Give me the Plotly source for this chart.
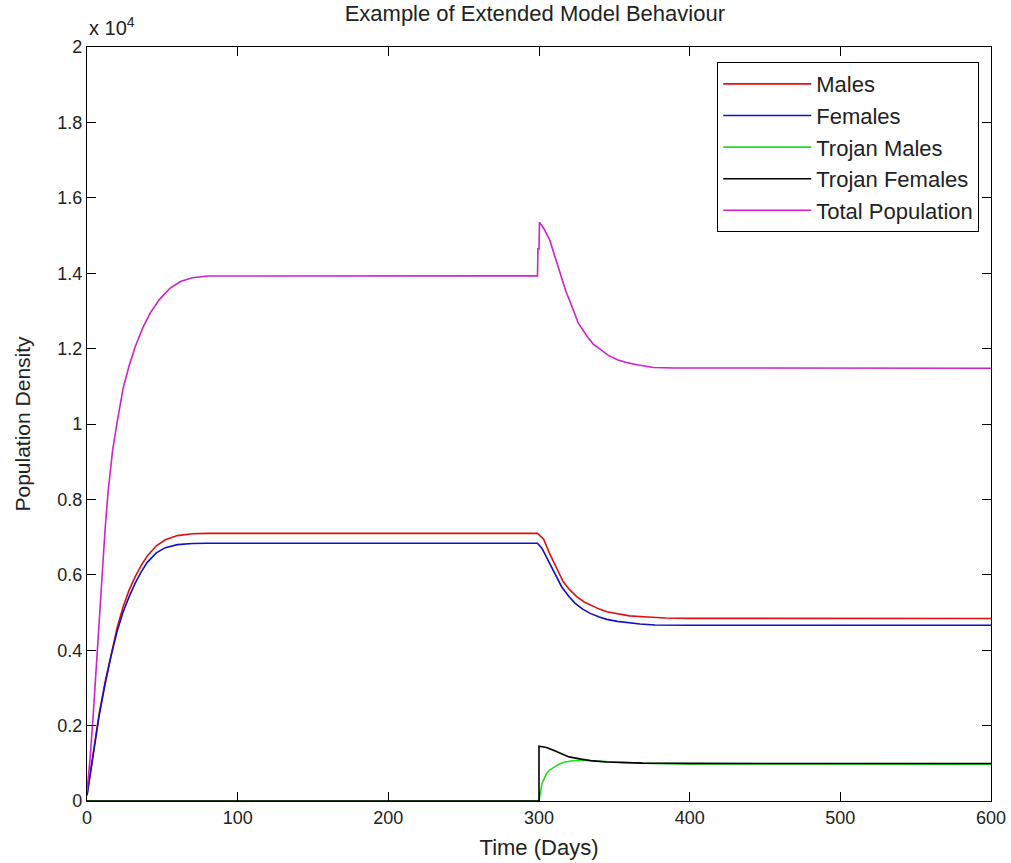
import plotly.graph_objects as go

# ---------------- data ----------------
male_days = [0, 4, 8, 12, 16, 20, 24, 28, 32, 36, 40, 46, 52, 60, 70, 80, 299, 303, 307, 312, 316, 320, 325, 330, 334, 340, 345, 352, 360, 372, 384, 400, 600]
male_vals = [150, 1200, 2300, 3150, 3900, 4600, 5150, 5600, 5950, 6250, 6500, 6770, 6930, 7040, 7090, 7100, 7100, 6950, 6570, 6150, 5820, 5620, 5420, 5280, 5200, 5090, 5020, 4960, 4910, 4880, 4855, 4845, 4840]

female_days = [0, 4, 8, 12, 16, 20, 24, 28, 32, 36, 40, 46, 52, 60, 70, 80, 299, 302, 307, 311, 315, 320, 324, 329, 334, 340, 345, 352, 358, 367, 377, 400, 600]
female_vals = [150, 1180, 2250, 3100, 3850, 4500, 5020, 5420, 5780, 6080, 6330, 6580, 6720, 6800, 6830, 6837, 6837, 6700, 6305, 5970, 5684, 5420, 5243, 5090, 4977, 4880, 4818, 4765, 4730, 4695, 4670, 4662, 4660]

tmale_days = [0, 300, 301, 302, 303.5, 305, 307, 310, 313, 316, 321, 327, 333, 338, 350, 369, 400, 600]
tmale_vals = [0, 0, 250, 460, 600, 728, 820, 905, 970, 1020, 1060, 1080, 1075, 1062, 1030, 1000, 985, 975]

tfemale_days = [0, 300, 300, 305, 310, 315, 320, 328, 336, 345, 355, 369, 400, 600]
tfemale_vals = [0, 0, 1453, 1420, 1340, 1250, 1170, 1110, 1063, 1035, 1020, 1005, 997, 995]

total_days = [0, 2, 4, 6, 8, 10, 12, 14, 17, 20, 24, 28, 32, 37, 42, 48, 55, 62, 70, 80, 299, 299.3, 300, 300.3, 303, 307, 311, 315, 318, 321, 326, 332, 336, 341, 346, 352, 358, 365, 376, 390, 600]
total_vals = [250, 1100, 2200, 3500, 4700, 6100, 7200, 8200, 9300, 10050, 10950, 11550, 12050, 12550, 12950, 13300, 13600, 13780, 13880, 13925, 13930, 14645, 14645, 15350, 15200, 14890, 14360, 13830, 13500, 13210, 12680, 12320, 12120, 11970, 11820, 11705, 11630, 11570, 11500, 11485, 11480]

x_ticks = [0, 100, 200, 300, 400, 500, 600]
y_ticks = [0, 2000, 4000, 6000, 8000, 10000, 12000, 14000, 16000, 18000, 20000]
y_tick_labels = ["0", "0.2", "0.4", "0.6", "0.8", "1", "1.2", "1.4", "1.6", "1.8", "2"]

series = [
    ("Males", male_days, male_vals, "#e01010"),
    ("Females", female_days, female_vals, "#1010c8"),
    ("Trojan Males", tmale_days, tmale_vals, "#20dd20"),
    ("Trojan Females", tfemale_days, tfemale_vals, "#000000"),
    ("Total Population", total_days, total_vals, "#d020d0"),
]

FONT = "Liberation Sans, Arial, sans-serif"
TXT = "#222222"

fig = go.Figure()
for name, xs, ys, col in series:
    fig.add_trace(go.Scatter(x=xs, y=ys, mode="lines", name=name, legendgroup=name,
                             line=dict(color=col, width=1.6)))

axis_common = dict(showgrid=False, zeroline=False, showline=True, linecolor="black",
                   linewidth=1.3, mirror="allticks", ticks="inside", ticklen=9,
                   tickcolor="black", tickwidth=1.2, automargin=False,
                   tickfont=dict(family=FONT, size=18, color=TXT))

fig.update_layout(
    width=1011, height=863,
    margin=dict(l=87, r=20, t=47, b=62),
    paper_bgcolor="white", plot_bgcolor="white",
    title=dict(text="Example of Extended Model Behaviour", x=0.529, xanchor="center",
               y=0.994, yanchor="top", font=dict(family=FONT, size=22, color=TXT)),
    xaxis=dict(range=[0, 600], tickvals=x_ticks,
               title=dict(text="Time (Days)", font=dict(family=FONT, size=22, color=TXT), standoff=12),
               **axis_common),
    yaxis=dict(range=[0, 20000], tickvals=y_ticks, ticktext=y_tick_labels,
               title=dict(text="Population Density", font=dict(family=FONT, size=21, color=TXT), standoff=20),
               **axis_common),
    legend=dict(x=0.987, xanchor="right", y=0.980, yanchor="top",
                bgcolor="white", bordercolor="black", borderwidth=1,
                font=dict(family=FONT, size=22, color=TXT),
                tracegroupgap=0, itemwidth=88),
    showlegend=True,
)

fig.add_annotation(text="x 10<sup>4</sup>", xref="paper", yref="paper", x=0.0, y=1.0,
                   xanchor="left", yanchor="bottom", showarrow=False, yshift=6,
                   font=dict(family=FONT, size=20, color=TXT))

fig.write_html("out.html", config={"displayModeBar": False},
               post_script="document.body.style.margin='0';")
